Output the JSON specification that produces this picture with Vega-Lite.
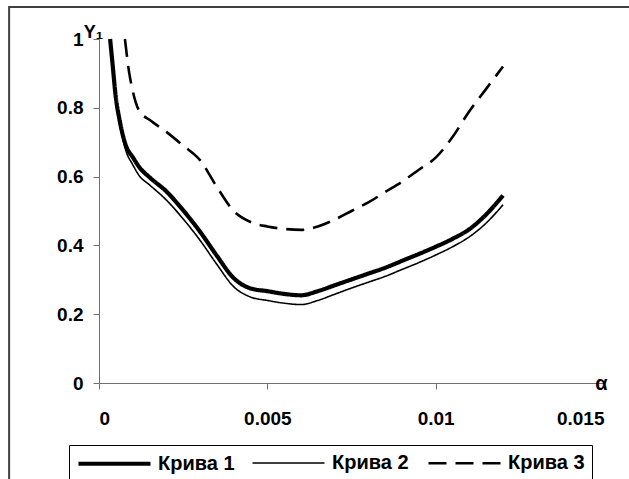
{
  "$schema": "https://vega.github.io/schema/vega-lite/v6.json",
  "width": 505,
  "height": 344,
  "autosize": {"type": "none"},
  "padding": {"left": 99, "top": 39, "right": 25, "bottom": 96},
  "background": "white",
  "config": {
    "view": {"stroke": null},
    "font": "Liberation Sans",
    "axis": {
      "grid": false,
      "domainColor": "#707070",
      "domainWidth": 1,
      "tickColor": "#707070",
      "tickSize": 6,
      "labelFont": "Liberation Sans",
      "labelFontWeight": "bold",
      "labelFontSize": 19,
      "labelColor": "black",
      "titleFont": "Liberation Sans",
      "titleFontWeight": "bold",
      "titleFontSize": 18,
      "titleColor": "black"
    },
    "legend": {
      "title": null,
      "orient": "none",
      "legendX": -30,
      "legendY": 406,
      "direction": "horizontal",
      "columns": 3,
      "columnPadding": 14,
      "padding": 7,
      "strokeColor": "black",
      "fillColor": "white",
      "symbolType": "M-1,0H7",
      "symbolSize": 324,
      "symbolStrokeColor": "black",
      "labelOffset": 59,
      "labelFont": "Liberation Sans",
      "labelFontWeight": "bold",
      "labelFontSize": 20,
      "labelColor": "black"
    }
  },
  "datasets": {
    "curves": [
      {"a": 0.00033, "y": 1.0, "c": "Крива 1"},
      {"a": 0.0004, "y": 0.93, "c": "Крива 1"},
      {"a": 0.0005, "y": 0.83, "c": "Крива 1"},
      {"a": 0.0006, "y": 0.77, "c": "Крива 1"},
      {"a": 0.0008, "y": 0.69, "c": "Крива 1"},
      {"a": 0.001, "y": 0.657, "c": "Крива 1"},
      {"a": 0.0012, "y": 0.627, "c": "Крива 1"},
      {"a": 0.0015, "y": 0.598, "c": "Крива 1"},
      {"a": 0.002, "y": 0.557, "c": "Крива 1"},
      {"a": 0.0025, "y": 0.502, "c": "Крива 1"},
      {"a": 0.003, "y": 0.44, "c": "Крива 1"},
      {"a": 0.0035, "y": 0.37, "c": "Крива 1"},
      {"a": 0.004, "y": 0.305, "c": "Крива 1"},
      {"a": 0.0045, "y": 0.275, "c": "Крива 1"},
      {"a": 0.005, "y": 0.267, "c": "Крива 1"},
      {"a": 0.0055, "y": 0.259, "c": "Крива 1"},
      {"a": 0.006, "y": 0.255, "c": "Крива 1"},
      {"a": 0.0065, "y": 0.267, "c": "Крива 1"},
      {"a": 0.007, "y": 0.284, "c": "Крива 1"},
      {"a": 0.0075, "y": 0.301, "c": "Крива 1"},
      {"a": 0.008, "y": 0.318, "c": "Крива 1"},
      {"a": 0.0085, "y": 0.335, "c": "Крива 1"},
      {"a": 0.009, "y": 0.355, "c": "Крива 1"},
      {"a": 0.0095, "y": 0.375, "c": "Крива 1"},
      {"a": 0.01, "y": 0.396, "c": "Крива 1"},
      {"a": 0.0105, "y": 0.419, "c": "Крива 1"},
      {"a": 0.011, "y": 0.447, "c": "Крива 1"},
      {"a": 0.0115, "y": 0.49, "c": "Крива 1"},
      {"a": 0.012, "y": 0.545, "c": "Крива 1"},

      {"a": 0.00033, "y": 1.0, "c": "Крива 2"},
      {"a": 0.0004, "y": 0.92, "c": "Крива 2"},
      {"a": 0.0005, "y": 0.82, "c": "Крива 2"},
      {"a": 0.0006, "y": 0.76, "c": "Крива 2"},
      {"a": 0.0008, "y": 0.675, "c": "Крива 2"},
      {"a": 0.001, "y": 0.635, "c": "Крива 2"},
      {"a": 0.0012, "y": 0.602, "c": "Крива 2"},
      {"a": 0.0015, "y": 0.576, "c": "Крива 2"},
      {"a": 0.002, "y": 0.532, "c": "Крива 2"},
      {"a": 0.0025, "y": 0.477, "c": "Крива 2"},
      {"a": 0.003, "y": 0.415, "c": "Крива 2"},
      {"a": 0.0035, "y": 0.345, "c": "Крива 2"},
      {"a": 0.004, "y": 0.28, "c": "Крива 2"},
      {"a": 0.0045, "y": 0.25, "c": "Крива 2"},
      {"a": 0.005, "y": 0.24, "c": "Крива 2"},
      {"a": 0.0055, "y": 0.232, "c": "Крива 2"},
      {"a": 0.006, "y": 0.228, "c": "Крива 2"},
      {"a": 0.0065, "y": 0.24, "c": "Крива 2"},
      {"a": 0.007, "y": 0.258, "c": "Крива 2"},
      {"a": 0.0075, "y": 0.276, "c": "Крива 2"},
      {"a": 0.008, "y": 0.293, "c": "Крива 2"},
      {"a": 0.0085, "y": 0.31, "c": "Крива 2"},
      {"a": 0.009, "y": 0.33, "c": "Крива 2"},
      {"a": 0.0095, "y": 0.35, "c": "Крива 2"},
      {"a": 0.01, "y": 0.372, "c": "Крива 2"},
      {"a": 0.0105, "y": 0.396, "c": "Крива 2"},
      {"a": 0.011, "y": 0.425, "c": "Крива 2"},
      {"a": 0.0115, "y": 0.465, "c": "Крива 2"},
      {"a": 0.012, "y": 0.518, "c": "Крива 2"},

      {"a": 0.00077, "y": 1.0, "c": "Крива 3"},
      {"a": 0.0009, "y": 0.9, "c": "Крива 3"},
      {"a": 0.001, "y": 0.85, "c": "Крива 3"},
      {"a": 0.0012, "y": 0.79, "c": "Крива 3"},
      {"a": 0.0015, "y": 0.765, "c": "Крива 3"},
      {"a": 0.002, "y": 0.73, "c": "Крива 3"},
      {"a": 0.0025, "y": 0.69, "c": "Крива 3"},
      {"a": 0.003, "y": 0.648, "c": "Крива 3"},
      {"a": 0.0035, "y": 0.57, "c": "Крива 3"},
      {"a": 0.004, "y": 0.5, "c": "Крива 3"},
      {"a": 0.0045, "y": 0.468, "c": "Крива 3"},
      {"a": 0.005, "y": 0.455, "c": "Крива 3"},
      {"a": 0.0055, "y": 0.448, "c": "Крива 3"},
      {"a": 0.006, "y": 0.445, "c": "Крива 3"},
      {"a": 0.0065, "y": 0.455, "c": "Крива 3"},
      {"a": 0.007, "y": 0.475, "c": "Крива 3"},
      {"a": 0.0075, "y": 0.5, "c": "Крива 3"},
      {"a": 0.008, "y": 0.525, "c": "Крива 3"},
      {"a": 0.0085, "y": 0.555, "c": "Крива 3"},
      {"a": 0.009, "y": 0.585, "c": "Крива 3"},
      {"a": 0.0095, "y": 0.62, "c": "Крива 3"},
      {"a": 0.01, "y": 0.655, "c": "Крива 3"},
      {"a": 0.0105, "y": 0.715, "c": "Крива 3"},
      {"a": 0.011, "y": 0.79, "c": "Крива 3"},
      {"a": 0.0115, "y": 0.855, "c": "Крива 3"},
      {"a": 0.012, "y": 0.92, "c": "Крива 3"}
    ]
  },
  "layer": [
    {
      "description": "chart frame around the whole figure",
      "data": {"values": [{}]},
      "mark": {"type": "rect", "fill": null, "stroke": "#404040", "strokeWidth": 2, "clip": false},
      "encoding": {
        "x": {"datum": -0.00267, "type": "quantitative", "scale": {"domain": [0, 0.015], "nice": false, "zero": false}},
        "x2": {"datum": 0.0175},
        "y": {"datum": 1.093, "type": "quantitative", "scale": {"domain": [0, 1], "nice": false}},
        "y2": {"datum": -0.4}
      }
    },
    {
      "data": {"name": "curves"},
      "mark": {"type": "line", "interpolate": "monotone", "color": "black", "strokeCap": "butt"},
      "encoding": {
        "x": {
          "field": "a",
          "type": "quantitative",
          "scale": {"domain": [0, 0.015], "nice": false, "zero": false},
          "axis": {
            "values": [0, 0.005, 0.01, 0.015],
            "format": "~g",
            "labelPadding": 20,
            "title": "α",
            "titleAngle": 0,
            "titleX": 502,
            "titleY": 0,
            "titleAlign": "center",
            "titleBaseline": "middle",
            "titleFontSize": 20
          }
        },
        "y": {
          "field": "y",
          "type": "quantitative",
          "scale": {"domain": [0, 1], "nice": false},
          "axis": {
            "values": [0, 0.2, 0.4, 0.6, 0.8, 1],
            "format": "~g",
            "labelPadding": 10,
            "title": "Y₁",
            "titleAngle": 0,
            "titleX": -6,
            "titleY": -7,
            "titleAlign": "center",
            "titleBaseline": "middle"
          }
        },
        "strokeWidth": {
          "field": "c",
          "type": "nominal",
          "scale": {"type": "ordinal", "domain": ["Крива 1", "Крива 2", "Крива 3"], "range": [4.2, 1.6, 2.6]}
        },
        "strokeDash": {
          "field": "c",
          "type": "nominal",
          "scale": {"domain": ["Крива 1", "Крива 2", "Крива 3"], "range": [[1, 0], [1, 0], [18, 9]]}
        }
      }
    }
  ]
}
